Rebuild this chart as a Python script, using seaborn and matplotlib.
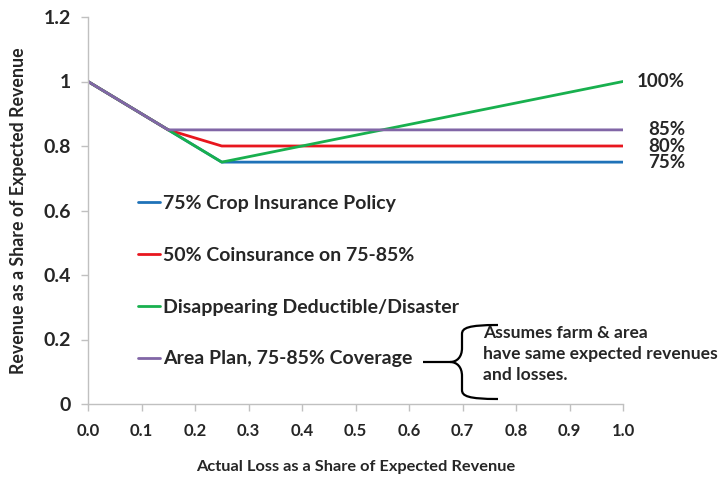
import matplotlib
matplotlib.use("Agg")
import matplotlib.pyplot as plt
from matplotlib.path import Path
from matplotlib.patches import PathPatch
import seaborn as sns
import pandas as pd

# ---- data ----
series_names = ["75% Crop Insurance Policy", "50% Coinsurance on 75-85%",
                "Disappearing Deductible/Disaster", "Area Plan, 75-85% Coverage"]
crop_x = [0.0, 0.25, 1.0]
crop_y = [1.0, 0.75, 0.75]
coins_x = [0.0, 0.15, 0.25, 1.0]
coins_y = [1.0, 0.85, 0.80, 0.80]
disap_x = [0.0, 0.25, 1.0]
disap_y = [1.0, 0.75, 1.0]
area_x = [0.0, 0.15, 1.0]
area_y = [1.0, 0.85, 0.85]
end_labels = ["100%", "85%", "80%", "75%"]
end_label_y = [1.0, 0.85, 0.80, 0.75]
x_ticks = [0.0, 0.1, 0.2, 0.3, 0.4, 0.5, 0.6, 0.7, 0.8, 0.9, 1.0]
y_ticks = [0, 0.2, 0.4, 0.6, 0.8, 1, 1.2]
y_tick_labels = ["0", "0.2", "0.4", "0.6", "0.8", "1", "1.2"]
note_text = "Assumes farm & area\nhave same expected revenues\nand losses."

colors = ["#1f72b8", "#e8161e", "#18b04e", "#8166a6"]

rows = []
for name, xs, ys in zip(series_names, [crop_x, coins_x, disap_x, area_x],
                        [crop_y, coins_y, disap_y, area_y]):
    for xv, yv in zip(xs, ys):
        rows.append({"series": name, "loss": xv, "revenue": yv})
df = pd.DataFrame(rows)

sns.set_theme(style="white")
plt.rcParams["font.family"] = ["Lato", "DejaVu Sans"]
plt.rcParams["font.weight"] = "bold"

fig = plt.figure(figsize=(7.23, 4.78), dpi=100)
ax = fig.add_axes([88/723, 1-404/478, (623-88)/723, (404-17)/478])

sns.lineplot(data=df, x="loss", y="revenue", hue="series", hue_order=series_names,
             palette=colors, linewidth=2.0, sort=False, estimator=None, ax=ax)

ax.set_xlim(0, 1.0)
ax.set_ylim(0, 1.2)
ax.set_xticks(x_ticks)
ax.set_xticklabels([f"{v:.1f}" for v in x_ticks], fontsize=12, fontweight="bold")
ax.set_yticks(y_ticks)
ax.set_yticklabels(y_tick_labels, fontsize=14, fontweight="bold")
ax.tick_params(axis="both", which="both", direction="out", length=5, width=1,
               color="#c0c0c0", bottom=True, left=True)
ax.tick_params(axis="x", pad=9)
ax.tick_params(axis="y", pad=7)
for s in ["top", "right"]:
    ax.spines[s].set_visible(False)
for s in ["left", "bottom"]:
    ax.spines[s].set_color("#c0c0c0")
    ax.spines[s].set_linewidth(1)
ax.set_xlabel("Actual Loss as a Share of Expected Revenue", fontsize=11.8,
              fontweight="bold", labelpad=15)
ax.set_ylabel("Revenue as a Share of Expected Revenue", fontsize=12.8,
              fontweight="bold", labelpad=12)

leg = ax.legend(loc="upper left", bbox_to_anchor=(0.075, 0.565), frameon=False,
                prop={"size": 14.0, "weight": "bold"}, handlelength=1.15,
                handletextpad=0.15, labelspacing=1.79, borderpad=0)
for line in leg.get_lines():
    line.set_linewidth(2.0)

# end labels
for lab, yv in zip(end_labels, end_label_y):
    ax.text(1.116, yv, lab, ha="right", va="center", fontsize=13.5,
            fontweight="bold", clip_on=False, transform=ax.transData)

# brace connector and note
def px(xp, yp):
    return ((xp - 88) / 535.0, (404 - yp) / 322.5)

verts = [px(423, 362), px(450, 362),
         px(457, 362), px(462, 357), px(462, 348),
         px(462, 334),
         px(462, 328), px(468, 325), px(498, 325)]
codes = [Path.MOVETO, Path.LINETO,
         Path.CURVE4, Path.CURVE4, Path.CURVE4,
         Path.LINETO,
         Path.CURVE4, Path.CURVE4, Path.CURVE4]
ax.add_patch(PathPatch(Path(verts, codes), fill=False, lw=1.6, ec="black",
                       clip_on=False))
verts2 = [px(450, 362),
          px(457, 362), px(462, 367), px(462, 376),
          px(462, 390),
          px(462, 396), px(468, 399), px(498, 399)]
codes2 = [Path.MOVETO, Path.CURVE4, Path.CURVE4, Path.CURVE4, Path.LINETO,
          Path.CURVE4, Path.CURVE4, Path.CURVE4]
ax.add_patch(PathPatch(Path(verts2, codes2), fill=False, lw=1.6, ec="black",
                       clip_on=False))
tx, ty = px(483, 325)
ax.text(tx, ty, note_text, ha="left", va="top", fontsize=12.6, fontweight="bold",
        linespacing=1.4, transform=ax.transData, clip_on=False)

fig.savefig("out.png", dpi=100)
